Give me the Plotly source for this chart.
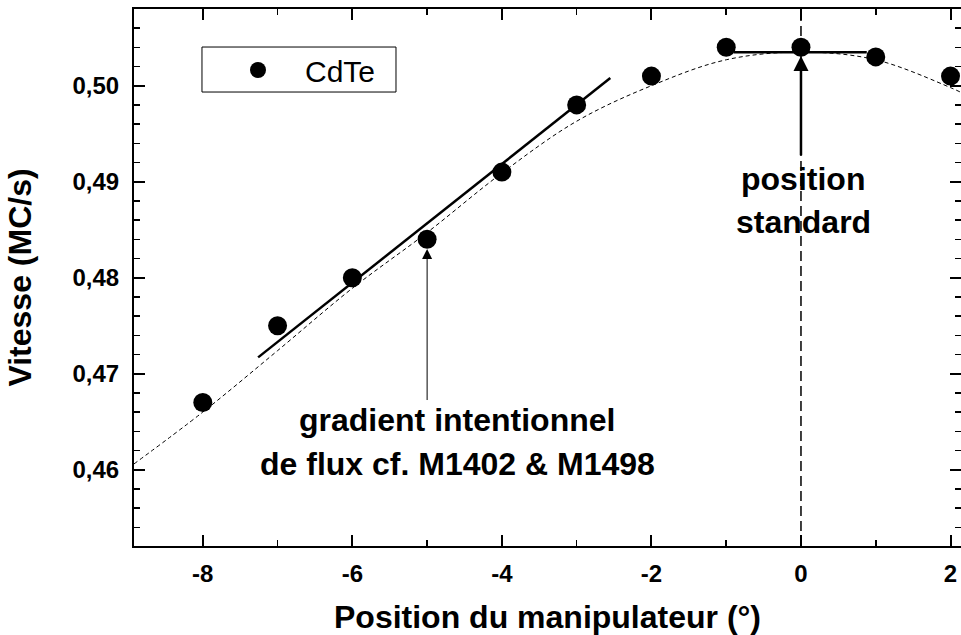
import plotly.graph_objects as go

# ---- data ----
positions = [-8, -7, -6, -5, -4, -3, -2, -1, 0, 1, 2]
vitesse = [0.467, 0.475, 0.480, 0.484, 0.491, 0.498, 0.501, 0.504, 0.504, 0.503, 0.501]

fit_x = [-8.92, -8, -7, -6, -5, -4, -3, -2, -1, 0, 1, 2, 2.14]
fit_y = [0.4606, 0.4660, 0.4724, 0.4789, 0.4847, 0.4909, 0.4963, 0.5000, 0.5027, 0.5035, 0.5027, 0.4998, 0.4993]

slope_x = [-7.26, -2.55]
slope_y = [0.4717, 0.5008]

plateau_x = [-0.9, 0.88]
plateau_y = [0.50348, 0.50348]

standard_pos = 0

x_ticks = [-8, -6, -4, -2, 0, 2]
x_tick_labels = ["-8", "-6", "-4", "-2", "0", "2"]
y_ticks = [0.46, 0.47, 0.48, 0.49, 0.50]
y_tick_labels = ["0,46", "0,47", "0,48", "0,49", "0,50"]

x_range = [-8.92, 2.14]
y_range = [0.45205, 0.50799]

FONT = "Arial, Liberation Sans, sans-serif"

fig = go.Figure()

fig.add_trace(go.Scatter(x=fit_x, y=fit_y, mode="lines", line=dict(color="black", width=1, dash="4px,3px", shape="spline"),
                         showlegend=False, hoverinfo="skip"))
fig.add_trace(go.Scatter(x=slope_x, y=slope_y, mode="lines", line=dict(color="black", width=2.5),
                         showlegend=False, hoverinfo="skip"))
fig.add_trace(go.Scatter(x=plateau_x, y=plateau_y, mode="lines", line=dict(color="black", width=2.5),
                         showlegend=False, hoverinfo="skip"))
fig.add_trace(go.Scatter(x=positions, y=vitesse, mode="markers", name="CdTe",
                         marker=dict(color="black", size=19, symbol="circle")))

# vertical dashed reference line at standard position
fig.add_shape(type="line", xref="x", yref="paper", x0=standard_pos, x1=standard_pos, y0=0, y1=1,
              line=dict(color="black", width=1.5, dash="10px,5px"), layer="below")

# legend frame
fig.add_shape(type="rect", xref="paper", yref="paper", x0=0.0822, x1=0.3168, y0=0.8454, y1=0.9292,
              line=dict(color="black", width=1), fillcolor="white", layer="below")

# arrows
fig.add_annotation(x=-5, y=0.4830, ax=-5, ay=0.4671, xref="x", yref="y", axref="x", ayref="y",
                   showarrow=True, arrowhead=2, arrowsize=2, arrowwidth=1, arrowcolor="black", text="")
fig.add_annotation(x=standard_pos, y=0.5031, ax=standard_pos, ay=0.4926, xref="x", yref="y", axref="x", ayref="y",
                   showarrow=True, arrowhead=2, arrowsize=1.2, arrowwidth=2.5, arrowcolor="black", text="")

ann_font = dict(family=FONT, size=32, color="black")
fig.add_annotation(x=-4.60, y=0.46517, text="<b>gradient intentionnel</b>", showarrow=False, font=ann_font,
                   xanchor="center", yanchor="middle")
fig.add_annotation(x=-4.60, y=0.46064, text="<b>de flux cf. M1402 &amp; M1498</b>", showarrow=False, font=ann_font,
                   xanchor="center", yanchor="middle")
fig.add_annotation(x=standard_pos + 0.03, y=0.49027, text="<b>position</b>", showarrow=False, font=ann_font,
                   xanchor="center", yanchor="middle")
fig.add_annotation(x=standard_pos + 0.03, y=0.48576, text="<b>standard</b>", showarrow=False, font=ann_font,
                   xanchor="center", yanchor="middle")

axis_common = dict(showline=True, linewidth=2, linecolor="black", mirror="ticks", ticks="inside",
                   ticklen=11, tickwidth=2, tickcolor="black", showgrid=False, zeroline=False, automargin=False,
                   tickfont=dict(family=FONT, size=24, color="black"))

fig.update_xaxes(range=x_range, tickmode="array", tickvals=x_ticks, ticktext=["<b>%s</b>" % t for t in x_tick_labels],
                 minor=dict(ticks="inside", dtick=1, tick0=0, ticklen=6, tickwidth=1.5, tickcolor="black"),
                 title=dict(text="<b>Position du manipulateur (°)</b>", font=dict(family=FONT, size=32, color="black"),
                            standoff=25),
                 ticklabelstandoff=5, **axis_common)
fig.update_yaxes(range=y_range, tickmode="array", tickvals=y_ticks, ticktext=["<b>%s</b>" % t for t in y_tick_labels],
                 minor=dict(ticks="inside", dtick=0.002, tick0=0.46, ticklen=6, tickwidth=1.5, tickcolor="black"),
                 title=dict(text="<b>Vitesse (MC/s)</b>", font=dict(family=FONT, size=32, color="black"), standoff=31),
                 ticklabelstandoff=8, **axis_common)

fig.update_layout(
    width=961, height=635,
    margin=dict(l=134, r=0, t=9, b=89, autoexpand=False),
    paper_bgcolor="white", plot_bgcolor="white",
    showlegend=True,
    legend=dict(x=0.0931, y=0.8864, xanchor="left", yanchor="middle", bgcolor="rgba(0,0,0,0)",
                borderwidth=0, itemwidth=84, font=dict(family=FONT, size=30, color="black")),
)

# remove the browser's default page margin so the figure fills the window exactly
fig.write_html("out.html", config={"displayModeBar": False, "staticPlot": True},
               post_script="document.body.style.margin='0';document.body.style.overflow='hidden';")
